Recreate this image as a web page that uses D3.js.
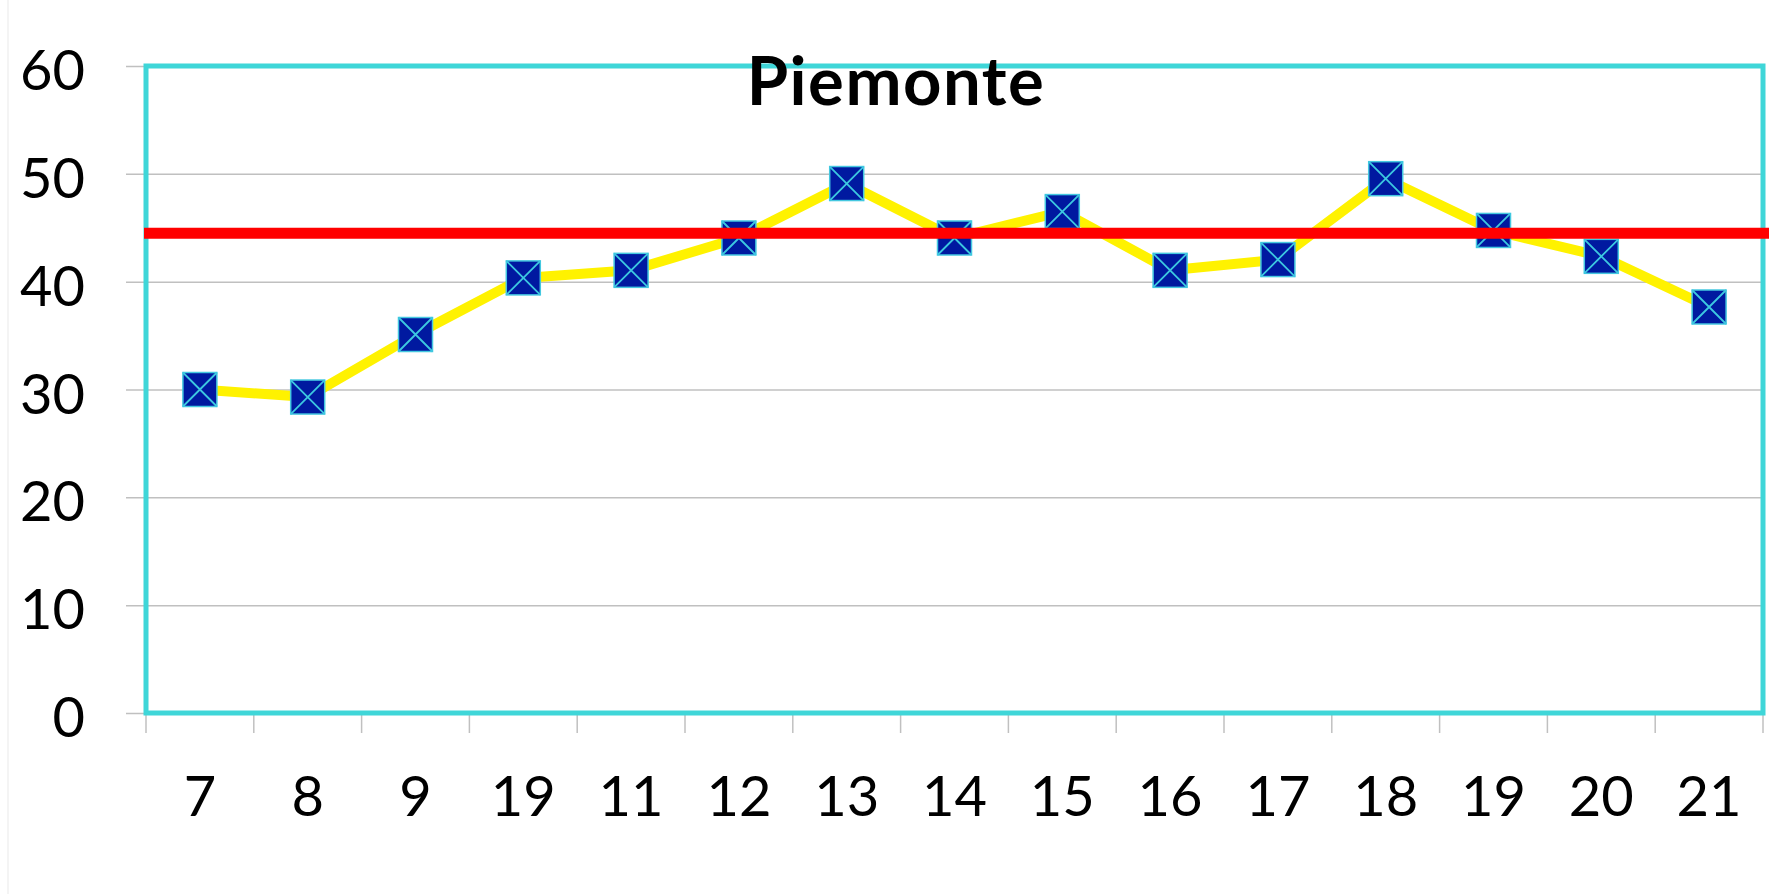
<!DOCTYPE html>
<html>
<head>
<meta charset="utf-8">
<script src="https://cdn.jsdelivr.net/npm/d3@7"></script>
<style>
  body { margin: 0; background: #fff; }
  svg { display: block; }
</style>
</head>
<body>
<div id="chart"></div>
<script>
// categories as printed on the x axis (note: "19" appears twice)
const categories = ['7', '8', '9', '19', '11', '12', '13', '14', '15', '16', '17', '18', '19', '20', '21'];
const values = [30, 29.3, 35.1, 40.35, 41.05, 44.05, 49.1, 44.05, 46.5, 41.05, 42.05, 49.55, 44.75, 42.35, 37.65];
const yTicks = [0, 10, 20, 30, 40, 50, 60];
const refLine = [44.5];
const title = 'Piemonte';

const W = 1782, H = 894;
const margin = { top: 66, right: 19, bottom: 181, left: 146 };
const w = W - margin.left - margin.right;
const h = H - margin.top - margin.bottom;

const svg = d3.select('#chart').append('svg')
    .attr('width', W)
    .attr('height', H);

// faint slide edge on the far left
svg.append('line')
    .attr('x1', 8).attr('x2', 8)
    .attr('y1', 0).attr('y2', H)
    .attr('stroke', '#f0f0f0')
    .attr('stroke-width', 1.5);

const g = svg.append('g').attr('transform', `translate(${margin.left},${margin.top})`);

// index-based band scale, since a label repeats
const x = d3.scaleBand()
    .domain(d3.range(categories.length))
    .range([0, w]);

const y = d3.scaleLinear()
    .domain([0, 60])
    .range([h, 0]);

const font = 'Lato, "Open Sans", sans-serif';

// gridlines + y axis
const yAxis = g.append('g')
    .call(d3.axisLeft(y).tickValues(yTicks).tickSizeInner(-w).tickSizeOuter(0).tickPadding(0));
yAxis.select('.domain').remove();
yAxis.selectAll('.tick line')
    .attr('x1', -20)
    .attr('stroke', '#c0c0c0')
    .attr('stroke-width', 1.5);
yAxis.selectAll('.tick text')
    .attr('x', -61)
    .attr('dy', '0.42em')
    .style('font-family', font)
    .style('font-size', '56px')
    .attr('fill', '#000');

// x axis ticks at band boundaries
const bounds = d3.range(categories.length + 1).map(i => i * x.bandwidth());
g.selectAll('.xtick')
    .data(bounds)
    .join('line')
    .attr('class', 'xtick')
    .attr('x1', d => d).attr('x2', d => d)
    .attr('y1', h).attr('y2', h + 20)
    .attr('stroke', '#c0c0c0')
    .attr('stroke-width', 1.5);

const xAxis = g.append('g')
    .attr('transform', `translate(0,${h})`)
    .call(d3.axisBottom(x).tickSize(0).tickPadding(0).tickFormat(i => categories[i]));
xAxis.select('.domain').remove();
xAxis.selectAll('.tick text')
    .attr('y', 103)
    .attr('dy', 0)
    .style('font-family', font)
    .style('font-size', '56px')
    .attr('fill', '#000');

// cyan plot border
g.append('rect')
    .attr('x', 0).attr('y', 0)
    .attr('width', w).attr('height', h)
    .attr('fill', 'none')
    .attr('stroke', '#3fd6d8')
    .attr('stroke-width', 5);

// title
svg.append('text')
    .attr('x', 896)
    .attr('y', 105)
    .attr('text-anchor', 'middle')
    .style('font-family', font)
    .style('font-weight', 'bold')
    .style('font-size', '67px')
    .style('letter-spacing', '1.5px')
    .attr('fill', '#000')
    .text(title);

// yellow series line
const cx = i => x(i) + x.bandwidth() / 2;
const line = d3.line()
    .x((d, i) => cx(i))
    .y(d => y(d));

g.append('path')
    .datum(values)
    .attr('d', line)
    .attr('fill', 'none')
    .attr('stroke', '#fff200')
    .attr('stroke-width', 10)
    .attr('stroke-linejoin', 'round');

// square markers with an X
const s = 17;
const markers = g.selectAll('.marker')
    .data(values)
    .join('g')
    .attr('class', 'marker')
    .attr('transform', (d, i) => `translate(${cx(i)},${y(d)})`);

markers.append('rect')
    .attr('x', -s).attr('y', -s)
    .attr('width', 2 * s).attr('height', 2 * s)
    .attr('fill', '#0019a0')
    .attr('stroke', '#45c8e0')
    .attr('stroke-width', 1.5);

markers.append('path')
    .attr('d', `M${-s},${-s}L${s},${s}M${s},${-s}L${-s},${s}`)
    .attr('stroke', '#3cc8e0')
    .attr('stroke-width', 1.8);

// red reference line
g.selectAll('.ref')
    .data(refLine)
    .join('line')
    .attr('class', 'ref')
    .attr('x1', -2).attr('x2', w + 6)
    .attr('y1', d => y(d)).attr('y2', d => y(d))
    .attr('stroke', '#ff0000')
    .attr('stroke-width', 11);
</script>
</body>
</html>
